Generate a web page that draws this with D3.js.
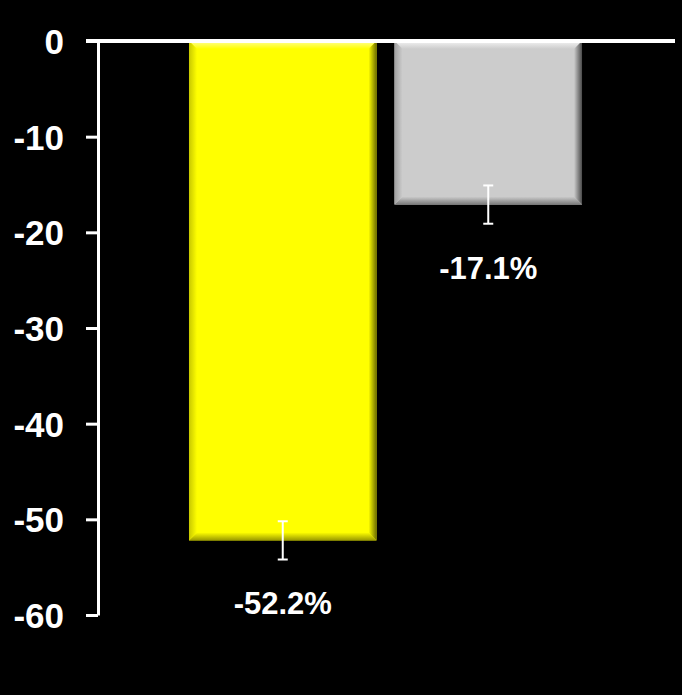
<!DOCTYPE html>
<html lang="en">
<head>
<meta charset="UTF-8">
<title>Change</title>
<script src="https://cdn.jsdelivr.net/npm/d3@7"></script>
<style>
  html, body { margin: 0; padding: 0; background: #000; }
  svg { display: block; }
</style>
</head>
<body>
<div id="chart"></div>
<script>
// data
var categories = ["A", "B"];
var values = [-52.2, -17.1];
var errors = [2.0, 2.0];
var labels = ["-52.2%", "-17.1%"];
var tickValues = [0, -10, -20, -30, -40, -50, -60];

// fill, highlight, left shade, right shade, bottom shade
var palettes = [
    {base: "#ffff00", top: "#ffff99", left: "#c8c800", right: "#6e6e00", bottom: "#9a9a00"},
    {base: "#cccccc", top: "#f4f4f4", left: "#a0a0a0", right: "#4a4a4a", bottom: "#7a7a7a"}
];

var width = 682, height = 695;

var svg = d3.select("#chart").append("svg")
    .attr("width", width)
    .attr("height", height)
    .style("background", "#000");

var y = d3.scaleLinear().domain([0, -60]).range([41, 615]);
var x = d3.scaleBand().domain(categories).range([180, 591])
    .paddingInner(0.0875).paddingOuter(0.04375);

var defs = svg.append("defs");

// gradients for the bevelled edges
function grad(id, from, to, x1, y1, x2, y2) {
    var g = defs.append("linearGradient").attr("id", id)
        .attr("x1", x1).attr("y1", y1).attr("x2", x2).attr("y2", y2);
    g.append("stop").attr("offset", "0%").attr("stop-color", from);
    g.append("stop").attr("offset", "100%").attr("stop-color", to);
}
palettes.forEach(function(p, i) {
    grad("top" + i, p.top, p.base, 0, 0, 0, 1);
    grad("bot" + i, p.base, p.bottom, 0, 0, 0, 1);
    grad("lef" + i, p.left, p.base, 0, 0, 1, 0);
    grad("rig" + i, p.base, p.right, 0, 0, 1, 0);
});

var bev = 8;
var bars = svg.selectAll("g.bar")
    .data(categories)
    .enter()
    .append("g")
    .attr("class", "bar");

bars.each(function(c, i) {
    var g = d3.select(this);
    var x0 = x(c), x1 = x(c) + x.bandwidth();
    var y0 = y(0), y1 = y(values[i]);
    g.append("rect")
        .attr("x", x0).attr("y", y0)
        .attr("width", x1 - x0).attr("height", y1 - y0)
        .attr("fill", palettes[i].base);
    var faces = [
        ["top", [[x0, y0], [x1, y0], [x1 - bev, y0 + bev], [x0 + bev, y0 + bev]]],
        ["bot", [[x0 + bev, y1 - bev], [x1 - bev, y1 - bev], [x1, y1], [x0, y1]]],
        ["lef", [[x0, y0], [x0 + bev, y0 + bev], [x0 + bev, y1 - bev], [x0, y1]]],
        ["rig", [[x1 - bev, y0 + bev], [x1, y0], [x1, y1], [x1 - bev, y1 - bev]]]
    ];
    faces.forEach(function(f) {
        g.append("polygon")
            .attr("points", f[1].map(function(p) { return p.join(","); }).join(" "))
            .attr("fill", "url(#" + f[0] + i + ")");
    });
});

// error bars
var eb = svg.selectAll("g.err")
    .data(categories)
    .enter()
    .append("g")
    .attr("class", "err")
    .attr("stroke", "#fff")
    .attr("stroke-width", 2);

eb.each(function(c, i) {
    var g = d3.select(this);
    var cx = x(c) + x.bandwidth() / 2;
    var hi = y(values[i] + errors[i]), lo = y(values[i] - errors[i]);
    g.append("line").attr("x1", cx).attr("x2", cx).attr("y1", hi).attr("y2", lo);
    g.append("line").attr("x1", cx - 5).attr("x2", cx + 5).attr("y1", hi).attr("y2", hi);
    g.append("line").attr("x1", cx - 5).attr("x2", cx + 5).attr("y1", lo).attr("y2", lo);
});

// value labels
svg.selectAll("text.val")
    .data(categories)
    .enter()
    .append("text")
    .attr("class", "val")
    .attr("x", function(c) { return x(c) + x.bandwidth() / 2; })
    .attr("y", function(c, i) { return y(values[i]) + 74; })
    .attr("text-anchor", "middle")
    .attr("fill", "#fff")
    .style("font-family", "Arial, 'Liberation Sans', sans-serif")
    .style("font-weight", "bold")
    .style("font-size", "31px")
    .text(function(c, i) { return labels[i]; });

// y axis (plain hyphen minus, like the original)
var axis = svg.append("g")
    .attr("transform", "translate(98,0)")
    .call(d3.axisLeft(y).tickValues(tickValues).tickSize(12).tickSizeOuter(0).tickPadding(22)
        .tickFormat(function(d) { return String(d); }));
axis.selectAll("path, line").attr("stroke", "#fff").attr("stroke-width", 3);
axis.selectAll("text")
    .attr("fill", "#fff")
    .attr("dy", "0.36em")
    .style("font-family", "Arial, 'Liberation Sans', sans-serif")
    .style("font-weight", "bold")
    .style("font-size", "35px");

// zero line
svg.append("line")
    .attr("x1", 86).attr("x2", 675)
    .attr("y1", y(0)).attr("y2", y(0))
    .attr("stroke", "#fff")
    .attr("stroke-width", 4);
</script>
</body>
</html>
